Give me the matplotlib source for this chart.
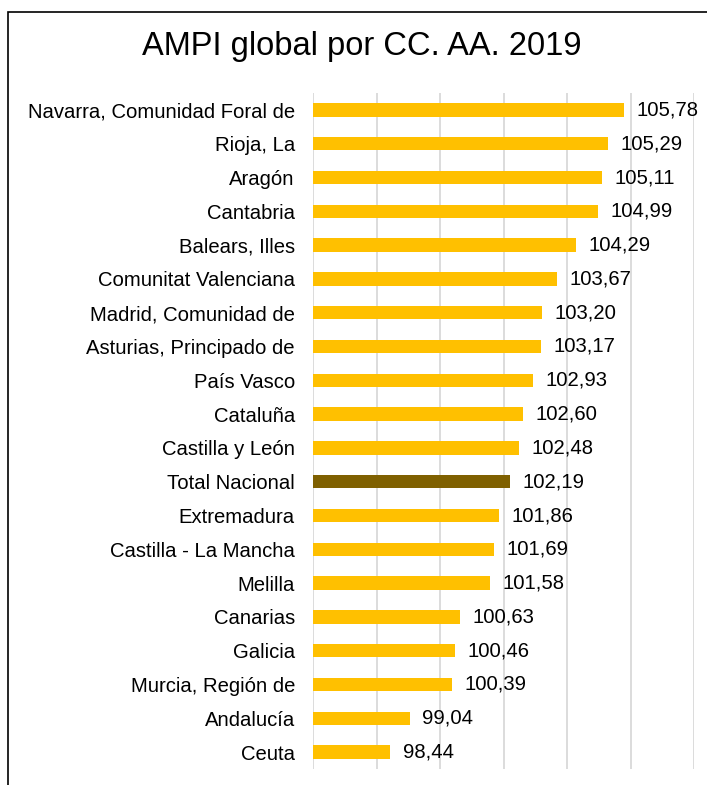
import matplotlib
matplotlib.use('Agg')
import matplotlib.pyplot as plt
from matplotlib.patches import Rectangle

# data, top to bottom as in the picture
regions = ["Navarra, Comunidad Foral de", "Rioja, La", "Aragón", "Cantabria",
           "Balears, Illes", "Comunitat Valenciana", "Madrid, Comunidad de",
           "Asturias, Principado de", "País Vasco", "Cataluña", "Castilla y León",
           "Total Nacional", "Extremadura", "Castilla - La Mancha", "Melilla",
           "Canarias", "Galicia", "Murcia, Región de", "Andalucía", "Ceuta"]
values = [105.78, 105.29, 105.11, 104.99, 104.29, 103.67, 103.20, 103.17, 102.93,
          102.60, 102.48, 102.19, 101.86, 101.69, 101.58, 100.63, 100.46, 100.39,
          99.04, 98.44]
highlight = "Total Nacional"

W, H = 707, 785
fig = plt.figure(figsize=(W / 100, H / 100), dpi=100)
plt.rcParams['font.family'] = ['Liberation Sans', 'DejaVu Sans']

# outer frame (cut off at right / bottom like the screenshot)
fig.patches.append(Rectangle((8 / W, -0.1), 1.2, 1 - 12 / H + 0.1,
                             transform=fig.transFigure, fill=False,
                             edgecolor='black', linewidth=1.2))

ax = fig.add_axes([313 / W, 1 - 769 / H, (694 - 313) / W, (769 - 93) / H])

n = len(regions)
ypos = list(range(n))[::-1]
colors = ['#7F6000' if r == highlight else '#FFC000' for r in regions]
ax.barh(ypos, [v - 96 for v in values], left=96, height=0.4, color=colors, zorder=3)

for y, v in zip(ypos, values):
    ax.annotate(f"{v:.2f}".replace('.', ','), (v, y), xytext=(9, 0),
                textcoords='offset points', va='center', ha='left',
                fontsize=14.6, color='#000000')

ax.set_xlim(96, 108)
ax.set_ylim(-0.5, n - 0.5)
ax.set_xticks(range(96, 109, 2))
ax.set_xticklabels([])
ax.set_yticks(ypos)
ax.set_yticklabels(regions, fontsize=14.6)
ax.tick_params(axis='both', length=0)
ax.tick_params(axis='y', pad=13)
ax.grid(axis='x', color='#D9D9D9', linewidth=1.3, zorder=0)
for s in ax.spines.values():
    s.set_visible(False)
ax.set_facecolor('none')

fig.text(362 / W, 1 - 47 / H, "AMPI global por CC. AA. 2019", ha='center', va='center',
         fontsize=23.5)

fig.savefig('out.png', dpi=100)
